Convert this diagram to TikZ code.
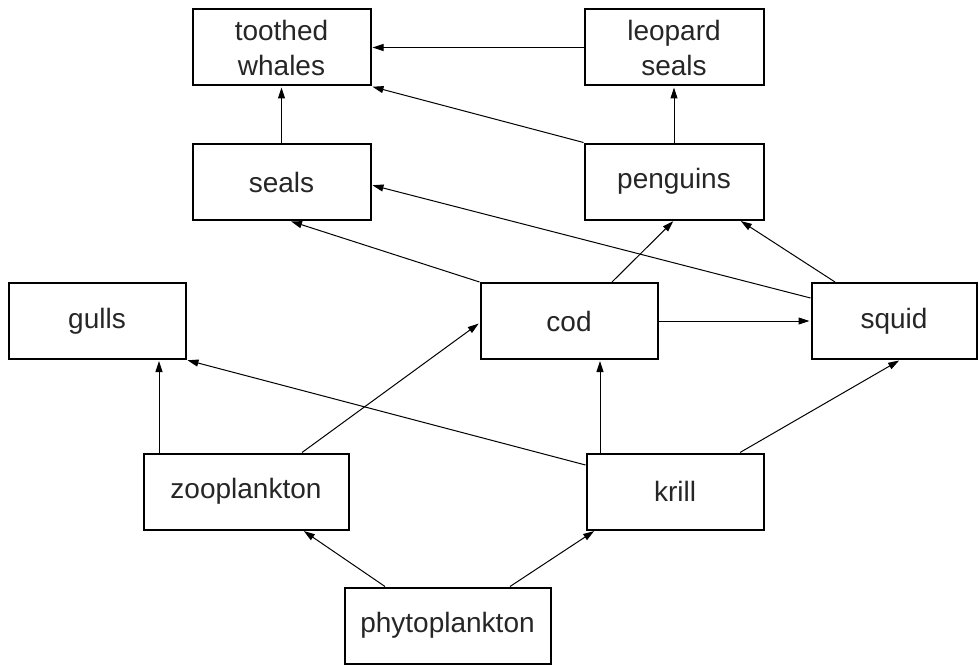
\documentclass[tikz,border=0pt]{standalone}
\usepackage{fontspec}
\setmainfont{Liberation Sans}
\usetikzlibrary{arrows.meta}
\begin{document}
\begin{tikzpicture}[x=1pt,y=-1pt,
  box/.style={draw=black,line width=2pt,fill=white,inner sep=0pt,minimum height=76pt,
    align=center,font=\fontsize{28}{35}\selectfont,text=black!85},
  edge/.style={line width=1pt,-{Triangle[length=11pt,width=7pt]},shorten >=1pt}]
\useasboundingbox (0,0) rectangle (979,666);
\node[box,minimum width=178pt] (tw) at (281.5,47.5) {toothed\\whales};
\node[box,minimum width=179pt] (ls) at (674,47.5) {leopard\\seals};
\node[box,minimum width=178pt] (seals) at (281.5,182) {seals};
\node[box,minimum width=179pt] (penguins) at (674,181.5) {penguins};
\node[box,minimum width=177pt] (gulls) at (97,321) {gulls};
\node[box,minimum width=177pt] (cod) at (569,321) {cod};
\node[box,minimum width=165pt] (squid) at (894,321) {squid};
\node[box,minimum width=205pt] (zoo) at (246,491.5) {zooplankton};
\node[box,minimum width=177pt] (krill) at (675,491.5) {krill};
\node[box,minimum width=206pt] (phyto) at (447.5,625.5) {phytoplankton};

\draw[edge] (ls.west) -- (tw.east);
\draw[edge] (penguins.north west) -- (tw.south east);
\draw[edge] (seals.north) -- (tw.south);
\draw[edge] (penguins.north) -- (ls.south);
\draw[edge] (cod.north west) -- ([xshift=8.5pt]seals.south);
\draw[edge] ([yshift=23pt]squid.west) -- ([yshift=-3pt]seals.east);
\draw[edge] ([xshift=43pt]cod.north) -- (penguins.south);
\draw[edge] ([xshift=-59pt]squid.north) -- ([xshift=66pt]penguins.south);
\draw[edge] (cod.east) -- (squid.west);
\draw[edge] ([yshift=26.5pt]krill.west) -- (gulls.south east);
\draw[edge] ([xshift=-87pt]zoo.north) -- ([xshift=-87pt]zoo.north |- gulls.south);
\draw[edge] ([xshift=56pt]zoo.north) -- ([yshift=-2pt]cod.west);
\draw[edge] ([xshift=-75pt]krill.north) -- ([xshift=-75pt]krill.north |- cod.south);
\draw[edge] ([xshift=65pt]krill.north) -- ([xshift=6pt]squid.south);
\draw[edge] ([xshift=-62.5pt]phyto.north) -- ([xshift=57pt]zoo.south);
\draw[edge] ([xshift=62.5pt]phyto.north) -- ([xshift=-80pt]krill.south);
\end{tikzpicture}
\end{document}
